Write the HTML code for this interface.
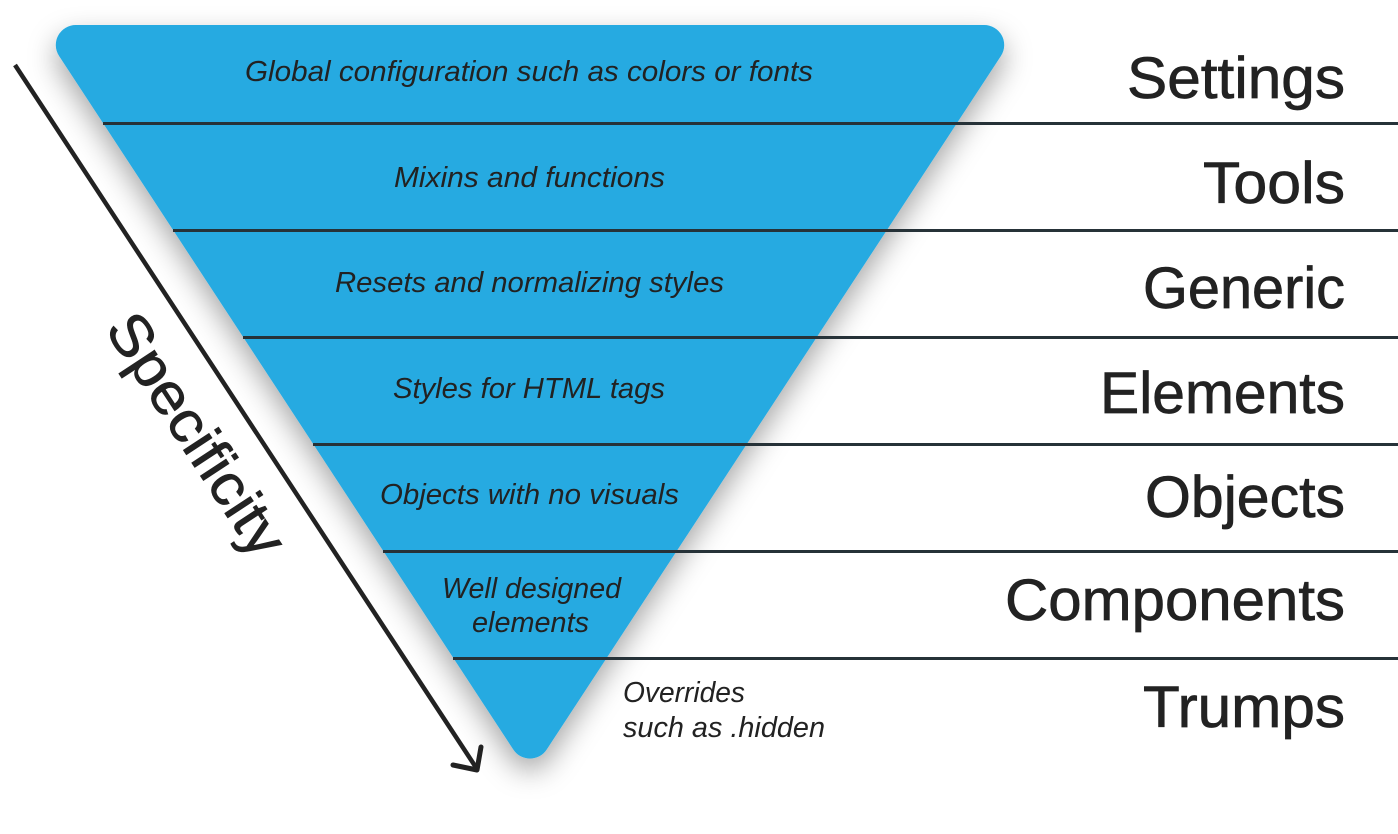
<!DOCTYPE html>
<html>
<head>
<meta charset="utf-8">
<style>
  html, body { margin: 0; padding: 0; background: #ffffff; }
  body { width: 1398px; height: 834px; overflow: hidden; }
  svg { display: block; }
  .desc { font-family: "Liberation Sans", sans-serif; font-style: italic; font-size: 29px; fill: #222222; }
  .lab { font-family: "Liberation Sans", sans-serif; font-size: 58px; fill: #222222; stroke: #222222; stroke-width: 0.7px; }
</style>
</head>
<body>
<svg width="1398" height="834" viewBox="0 0 1398 834" xmlns="http://www.w3.org/2000/svg">
  <defs>
    <filter id="sh" x="-20%" y="-20%" width="140%" height="150%">
      <feDropShadow dx="0" dy="12" stdDeviation="14" flood-color="#000000" flood-opacity="0.35"/>
    </filter>
  </defs>

  <!-- inverted triangle -->
  <path d="M 75.8,25 L 984.2,25 A 20 20 0 0 1 1000.9,56 L 546.8,749.4 A 20 20 0 0 1 513.2,749.4 L 59.1,56 A 20 20 0 0 1 75.8,25 Z"
        fill="#25aae1" filter="url(#sh)"/>

  <!-- horizontal separators -->
  <g stroke="#263238" stroke-width="3">
    <line x1="103" y1="123.5" x2="1398" y2="123.5"/>
    <line x1="173" y1="230.5" x2="1398" y2="230.5"/>
    <line x1="243" y1="337.5" x2="1398" y2="337.5"/>
    <line x1="313" y1="444.5" x2="1398" y2="444.5"/>
    <line x1="383" y1="551.5" x2="1398" y2="551.5"/>
    <line x1="453" y1="658.5" x2="1398" y2="658.5"/>
  </g>

  <!-- descriptions -->
  <text class="desc" x="245" y="81" textLength="568" lengthAdjust="spacingAndGlyphs">Global configuration such as colors or fonts</text>
  <text class="desc" x="394" y="187" textLength="271" lengthAdjust="spacingAndGlyphs">Mixins and functions</text>
  <text class="desc" x="335" y="292" textLength="389" lengthAdjust="spacingAndGlyphs">Resets and normalizing styles</text>
  <text class="desc" x="393" y="398" textLength="272" lengthAdjust="spacingAndGlyphs">Styles for HTML tags</text>
  <text class="desc" x="380" y="504" textLength="299" lengthAdjust="spacingAndGlyphs">Objects with no visuals</text>
  <text class="desc" x="442" y="598" textLength="179" lengthAdjust="spacingAndGlyphs">Well designed</text>
  <text class="desc" x="472" y="632" textLength="117" lengthAdjust="spacingAndGlyphs">elements</text>
  <text class="desc" x="623" y="702" textLength="122" lengthAdjust="spacingAndGlyphs">Overrides</text>
  <text class="desc" x="623" y="737" textLength="202" lengthAdjust="spacingAndGlyphs">such as .hidden</text>

  <!-- layer labels -->
  <text class="lab" x="1127" y="98" textLength="218" lengthAdjust="spacingAndGlyphs">Settings</text>
  <text class="lab" x="1203" y="203" textLength="142" lengthAdjust="spacingAndGlyphs">Tools</text>
  <text class="lab" x="1143" y="308" textLength="202" lengthAdjust="spacingAndGlyphs">Generic</text>
  <text class="lab" x="1100" y="413" textLength="245" lengthAdjust="spacingAndGlyphs">Elements</text>
  <text class="lab" x="1145" y="517" textLength="200" lengthAdjust="spacingAndGlyphs">Objects</text>
  <text class="lab" x="1005" y="620" textLength="340" lengthAdjust="spacingAndGlyphs">Components</text>
  <text class="lab" x="1143" y="727" textLength="202" lengthAdjust="spacingAndGlyphs">Trumps</text>

  <!-- specificity arrow -->
  <line x1="15" y1="65" x2="477" y2="769" stroke="#222222" stroke-width="4.5" stroke-linecap="butt"/>
  <polyline points="481,747 477,770 453,765" fill="none" stroke="#222222" stroke-width="5" stroke-linecap="round" stroke-linejoin="round"/>

  <text class="lab" x="0" y="0" textLength="278" lengthAdjust="spacingAndGlyphs"
        transform="translate(104,329) rotate(56.75)">Specificity</text>
</svg>
</body>
</html>
